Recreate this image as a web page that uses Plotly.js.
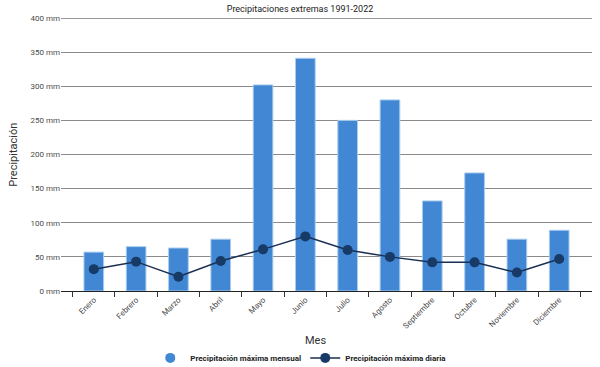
<!DOCTYPE html>
<html><head><meta charset="utf-8">
<script src="https://cdn.plot.ly/plotly-3.0.1.min.js"></script>
<style>html,body{margin:0;padding:0;background:#fff}#c{width:600px;height:367px}</style>
</head><body><div id="c"></div>
<script>
const meses = ["Enero","Febrero","Marzo","Abril","Mayo","Junio","Julio","Agosto","Septiembre","Octubre","Noviembre","Diciembre"];
const maxMensual = [57, 65, 63, 76, 302, 341, 250, 280, 132, 173, 76, 89];
const maxDiaria = [32, 43, 21, 44, 61, 80, 60, 50, 42, 42, 27, 47];
const yTicks = [0, 50, 100, 150, 200, 250, 300, 350, 400];
const yTickText = yTicks.map(v => v + " mm");

const barColor = "#4187d4";
const lineColor = "#1b2f52";

const traces = [
  {type:"bar", x:meses, y:maxMensual, name:"Precipitación máxima mensual",
   marker:{color:barColor, line:{color:"#a9cdef", width:1}}, showlegend:false, hoverinfo:"y"},
  {type:"scatter", mode:"lines+markers", x:meses, y:maxDiaria, name:"Precipitación máxima diaria",
   line:{color:lineColor, width:1.5}, marker:{color:"#173a66", size:10}, showlegend:false},
  {type:"scatter", mode:"markers", x:[null], y:[null], name:"Precipitación máxima mensual",
   marker:{color:barColor, size:10}},
  {type:"scatter", mode:"lines+markers", x:[null], y:[null], name:"Precipitación máxima diaria",
   line:{color:lineColor, width:1.5}, marker:{color:"#173a66", size:10}}
];

const layout = {
  width:600, height:367,
  margin:{l:61, r:8, t:18, b:76, autoexpand:false},
  paper_bgcolor:"#fff", plot_bgcolor:"#fff",
  font:{family:"Roboto, sans-serif", size:8, color:"#333"},
  title:{text:"Precipitaciones extremas 1991-2022", font:{size:9, color:"#222"}, x:0.5, xanchor:"center", y:0.985, yanchor:"top"},
  bargap:0.535,
  xaxis:{type:"category", automargin:false, tickangle:-45, tickson:"boundaries", ticks:"outside", ticklen:5, tickcolor:"#333",
    showline:true, linecolor:"#222", linewidth:1, showgrid:false,
    tickfont:{size:8, color:"#4a4a4a"}},
  yaxis:{range:[0,400], automargin:false, tickvals:yTicks, ticktext:yTickText, showgrid:true, gridcolor:"#8a8a8a", gridwidth:1,
    zeroline:false, showline:false, ticks:"", tickfont:{size:8, color:"#4a4a4a"}},
  legend:{orientation:"h", x:0.46, xanchor:"center", y:-0.245, yanchor:"middle",
    font:{size:8, color:"#222", weight:"bold"}, itemwidth:30, entrywidth:110},
  annotations:[
    {text:"Mes", xref:"paper", yref:"paper", x:0.48, y:-0.18, xanchor:"center", yanchor:"middle", showarrow:false,
     font:{size:11, color:"#333"}},
    {text:"Precipitación", xref:"paper", yref:"paper", x:-0.09, y:0.5, xanchor:"center", yanchor:"middle", textangle:-90, showarrow:false,
     font:{size:11, color:"#333"}}
  ],
  shapes:[{type:"line", xref:"paper", yref:"y", x0:0, x1:1, y0:400, y1:400, line:{color:"#333", width:1}}]
};

Plotly.newPlot("c", traces, layout, {displayModeBar:false, staticPlot:true});
</script></body></html>
